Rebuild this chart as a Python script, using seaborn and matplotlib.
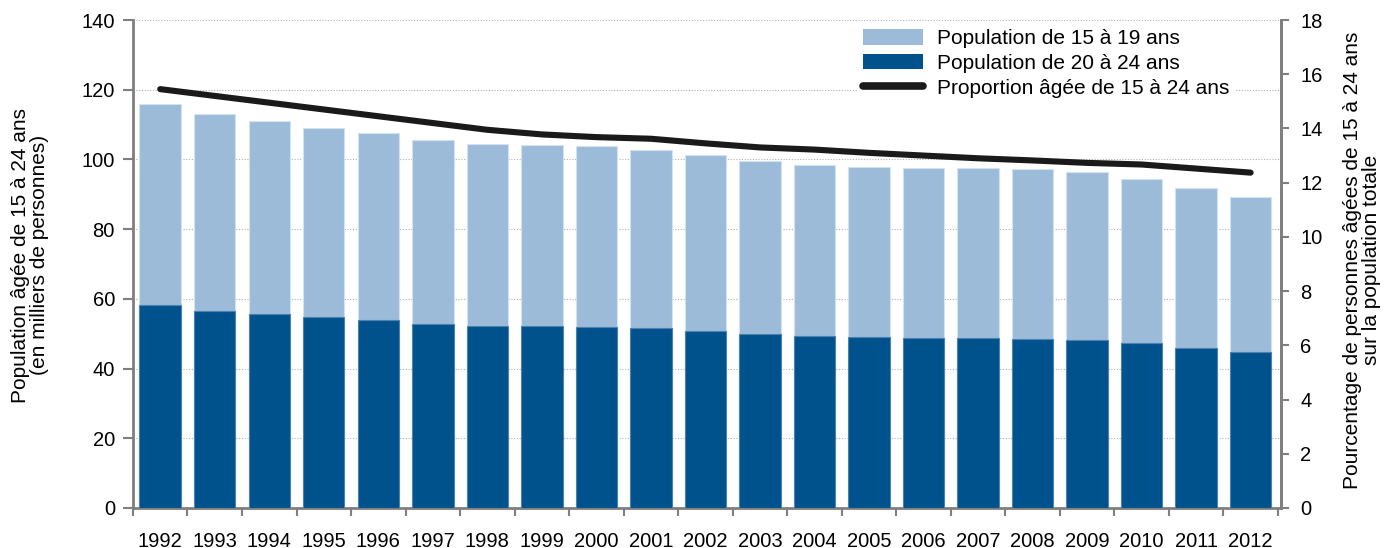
import numpy as np
import pandas as pd
import matplotlib
matplotlib.use("Agg")
import matplotlib.pyplot as plt
from matplotlib.patches import Patch
from matplotlib.lines import Line2D
import seaborn as sns

# Population (thousands) by age group and share of 15-24 year-olds (%)
years = ["1992", "1993", "1994", "1995", "1996", "1997", "1998", "1999", "2000", "2001",
         "2002", "2003", "2004", "2005", "2006", "2007", "2008", "2009", "2010", "2011", "2012"]
pop_20_24 = [58.1, 56.6, 55.6, 54.7, 53.9, 52.9, 52.3, 52.3, 52.0, 51.5,
             50.7, 49.8, 49.3, 49.0, 48.9, 48.9, 48.6, 48.2, 47.4, 46.0, 44.7]
pop_15_19 = [57.9, 56.4, 55.4, 54.4, 53.6, 52.6, 52.1, 51.9, 51.8, 51.3,
             50.5, 49.7, 49.0, 48.7, 48.6, 48.6, 48.6, 48.1, 47.1, 45.9, 44.4]
share_15_24 = [15.45, 15.2, 14.95, 14.7, 14.45, 14.2, 13.95, 13.78, 13.68, 13.62,
               13.45, 13.3, 13.22, 13.1, 13.0, 12.9, 12.82, 12.73, 12.67, 12.52, 12.37]

labels = ["Population de 15 à 19 ans", "Population de 20 à 24 ans",
          "Proportion âgée de 15 à 24 ans"]

light = "#9bbbd9"
dark = "#00528c"
spine_col = "#7f7f7f"
tick_fs = 14.5
text_fs = 15

sns.set_theme(style="white")
plt.rcParams["font.family"] = ["Liberation Sans", "DejaVu Sans"]
plt.rcParams["font.size"] = tick_fs
plt.rcParams["text.color"] = "black"

df = pd.DataFrame({"year": years, "p20": pop_20_24, "p15": pop_15_19, "share": share_15_24})
df["total"] = df["p20"] + df["p15"]

fig = plt.figure(figsize=(13.95, 5.48), dpi=100)
ax = fig.add_axes([0.0953, 0.073, 0.8227, 0.8905])

# Stacked bars: full height (15-19 on top) then 20-24 in front
sns.barplot(data=df, x="year", y="total", color=light, width=0.76, saturation=1,
            edgecolor="#d3e2ef", linewidth=0.8, ax=ax, zorder=2)
sns.barplot(data=df, x="year", y="p20", color=dark, width=0.76, saturation=1,
            edgecolor="#4d82b0", linewidth=0.8, ax=ax, zorder=3)

ax.set_xlim(-0.5, 20.55)
ax.set_ylim(0, 140)
ax.set_yticks(np.arange(0, 141, 20))
ax.yaxis.grid(True, linestyle=(0, (1, 1.5)), color="#b0b0b0", linewidth=0.8, zorder=0)
ax.set_axisbelow(True)
ax.set_xlabel("")
ax.set_ylabel("Population âgée de 15 à 24 ans\n(en milliers de personnes)",
              fontsize=text_fs, color="black", linespacing=1.0)
ax.yaxis.set_label_coords(-0.0732, 0.518)

# Ticks at category boundaries, labels at centers
ax.set_xticks(np.arange(-0.5, 20.6, 1), minor=True)
ax.tick_params(axis="x", which="major", length=0, pad=17, labelsize=tick_fs, colors="black")
ax.tick_params(axis="x", which="minor", length=6, width=1.5, color=spine_col, direction="out",
               bottom=True)
ax.tick_params(axis="y", which="major", length=7, width=1.5, color=spine_col, direction="out",
               left=True, pad=6, labelsize=tick_fs, labelcolor="black")

ax.spines["top"].set_visible(False)
for s in ["left", "bottom", "right"]:
    ax.spines[s].set_color(spine_col)
    ax.spines[s].set_linewidth(2)

# Share of 15-24 year-olds on the secondary axis
ax2 = ax.twinx()
sns.lineplot(x=np.arange(len(years)), y=df["share"], color="#1a1a1a", linewidth=4.4,
             ax=ax2, solid_capstyle="round", zorder=4)
ax2.set_ylim(0, 18)
ax2.set_yticks(np.arange(0, 19, 2))
ax2.set_ylabel("Pourcentage de personnes âgées de 15 à 24 ans\nsur la population totale",
               fontsize=text_fs, color="black", linespacing=1.0)
ax2.yaxis.set_label_coords(1.054, 0.508)
ax2.tick_params(axis="y", length=6, width=1.5, color=spine_col, direction="out",
                right=True, pad=8, labelsize=tick_fs, labelcolor="black")
ax2.grid(False)
for s in ["top", "left", "bottom"]:
    ax2.spines[s].set_visible(False)
ax2.spines["right"].set_color(spine_col)
ax2.spines["right"].set_linewidth(2)

handles = [Patch(facecolor=light, edgecolor="none"),
           Patch(facecolor=dark, edgecolor="none"),
           Line2D([0], [0], color="#1a1a1a", linewidth=5.5, solid_capstyle="round")]
leg = ax2.legend(handles, labels, loc="upper left", bbox_to_anchor=(0.614, 0.958),
                 bbox_transform=fig.transFigure, frameon=True, fancybox=False,
                 facecolor="white", edgecolor="none", framealpha=1, fontsize=text_fs,
                 labelcolor="black",
                 handlelength=2.9, handleheight=0.75, handletextpad=0.65,
                 labelspacing=0.27, borderpad=0.3, borderaxespad=0)
leg.set_zorder(10)

fig.savefig("out.png", dpi=100, facecolor="white")
